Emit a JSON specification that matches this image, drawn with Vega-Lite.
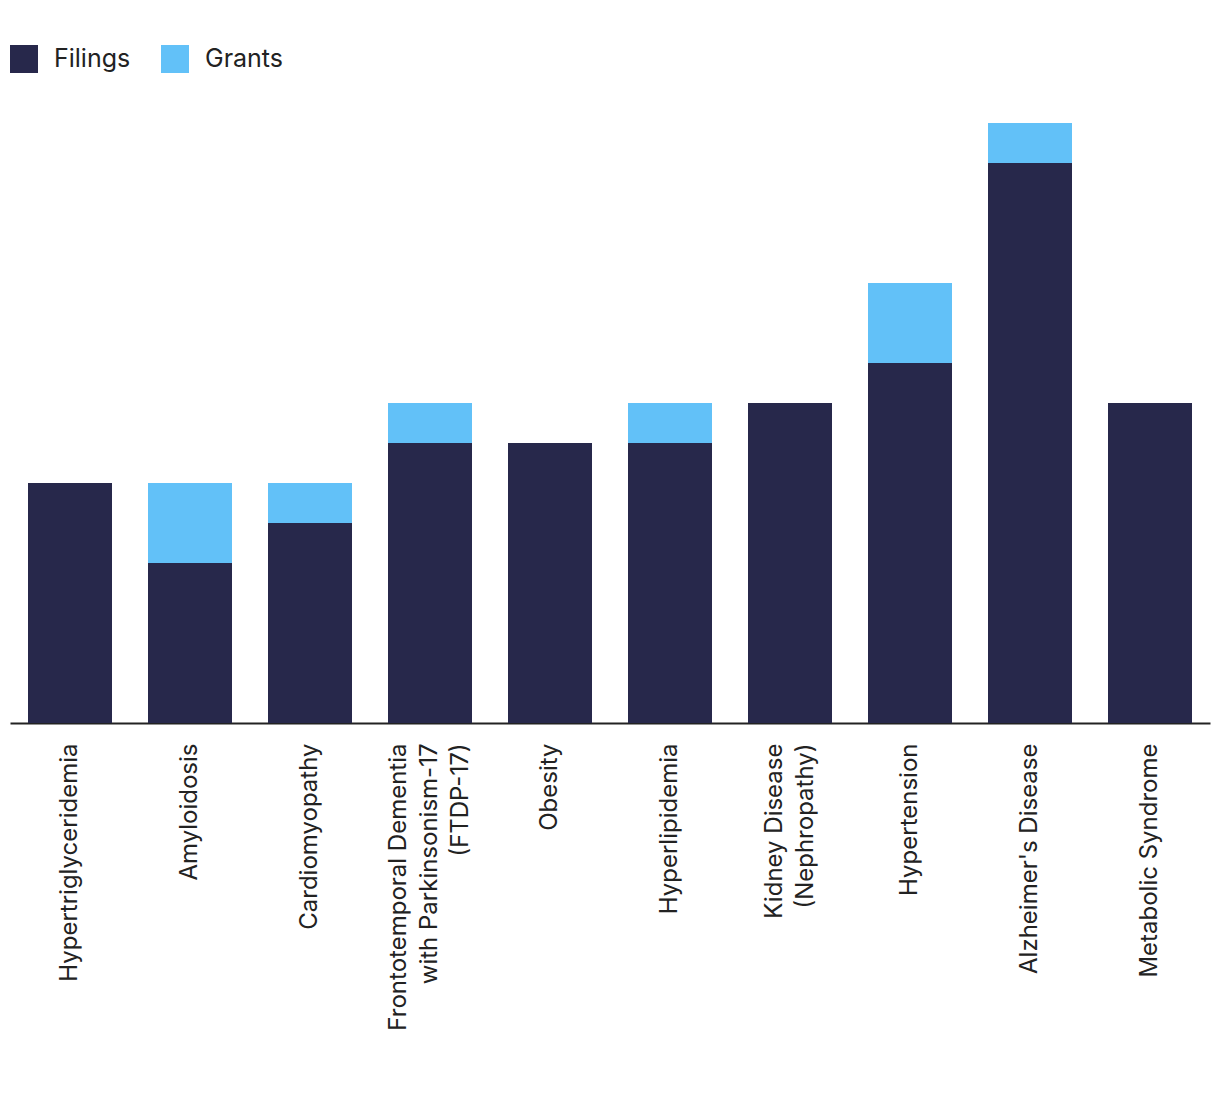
{
  "$schema": "https://vega.github.io/schema/vega-lite/v6.json",
  "width": 1200,
  "height": 600,
  "padding": {"left": 10, "top": 45, "right": 10, "bottom": 5},
  "background": "white",
  "config": {"view": {"stroke": null}, "font": "Inter"},
  "data": {
    "values": [
      {"disease": "Hypertriglyceridemia", "type": "Filings", "count": 6},
      {"disease": "Amyloidosis", "type": "Filings", "count": 4},
      {"disease": "Amyloidosis", "type": "Grants", "count": 2},
      {"disease": "Cardiomyopathy", "type": "Filings", "count": 5},
      {"disease": "Cardiomyopathy", "type": "Grants", "count": 1},
      {"disease": "Frontotemporal Dementia|with Parkinsonism-17|(FTDP-17)", "type": "Filings", "count": 7},
      {"disease": "Frontotemporal Dementia|with Parkinsonism-17|(FTDP-17)", "type": "Grants", "count": 1},
      {"disease": "Obesity", "type": "Filings", "count": 7},
      {"disease": "Hyperlipidemia", "type": "Filings", "count": 7},
      {"disease": "Hyperlipidemia", "type": "Grants", "count": 1},
      {"disease": "Kidney Disease|(Nephropathy)", "type": "Filings", "count": 8},
      {"disease": "Hypertension", "type": "Filings", "count": 9},
      {"disease": "Hypertension", "type": "Grants", "count": 2},
      {"disease": "Alzheimer's Disease", "type": "Filings", "count": 14},
      {"disease": "Alzheimer's Disease", "type": "Grants", "count": 1},
      {"disease": "Metabolic Syndrome", "type": "Filings", "count": 8}
    ]
  },
  "mark": {"type": "bar"},
  "encoding": {
    "x": {
      "field": "disease",
      "type": "nominal",
      "sort": null,
      "scale": {"paddingInner": 0.3, "paddingOuter": 0.15},
      "axis": {
        "title": null,
        "labelAngle": -90,
        "labelAlign": "right",
        "labelBaseline": "middle",
        "labelFontSize": 24,
        "labelLineHeight": 31,
        "labelColor": "#222222",
        "labelPadding": 20,
        "labelExpr": "split(datum.label, '|')",
        "labelOffset": {"expr": "-(length(split(datum.value, '|')) - 1) * 15.5"},
        "ticks": false,
        "domainColor": "#222222",
        "domainWidth": 2,
        "labelLimit": 400
      }
    },
    "y": {
      "field": "count",
      "type": "quantitative",
      "stack": "zero",
      "scale": {"domain": [0, 15], "nice": false},
      "axis": null
    },
    "color": {
      "field": "type",
      "type": "nominal",
      "scale": {"domain": ["Filings", "Grants"], "range": ["#27284b", "#62c1f8"]},
      "legend": {
        "title": null,
        "orient": "top",
        "direction": "horizontal",
        "symbolType": "square",
        "symbolSize": 784,
        "symbolStrokeWidth": 0,
        "symbolOpacity": 1,
        "labelFontSize": 25,
        "labelColor": "#222222",
        "labelOffset": 16,
        "columnPadding": 30,
        "offset": 50
      }
    },
    "order": {"field": "type", "sort": "ascending"}
  }
}
